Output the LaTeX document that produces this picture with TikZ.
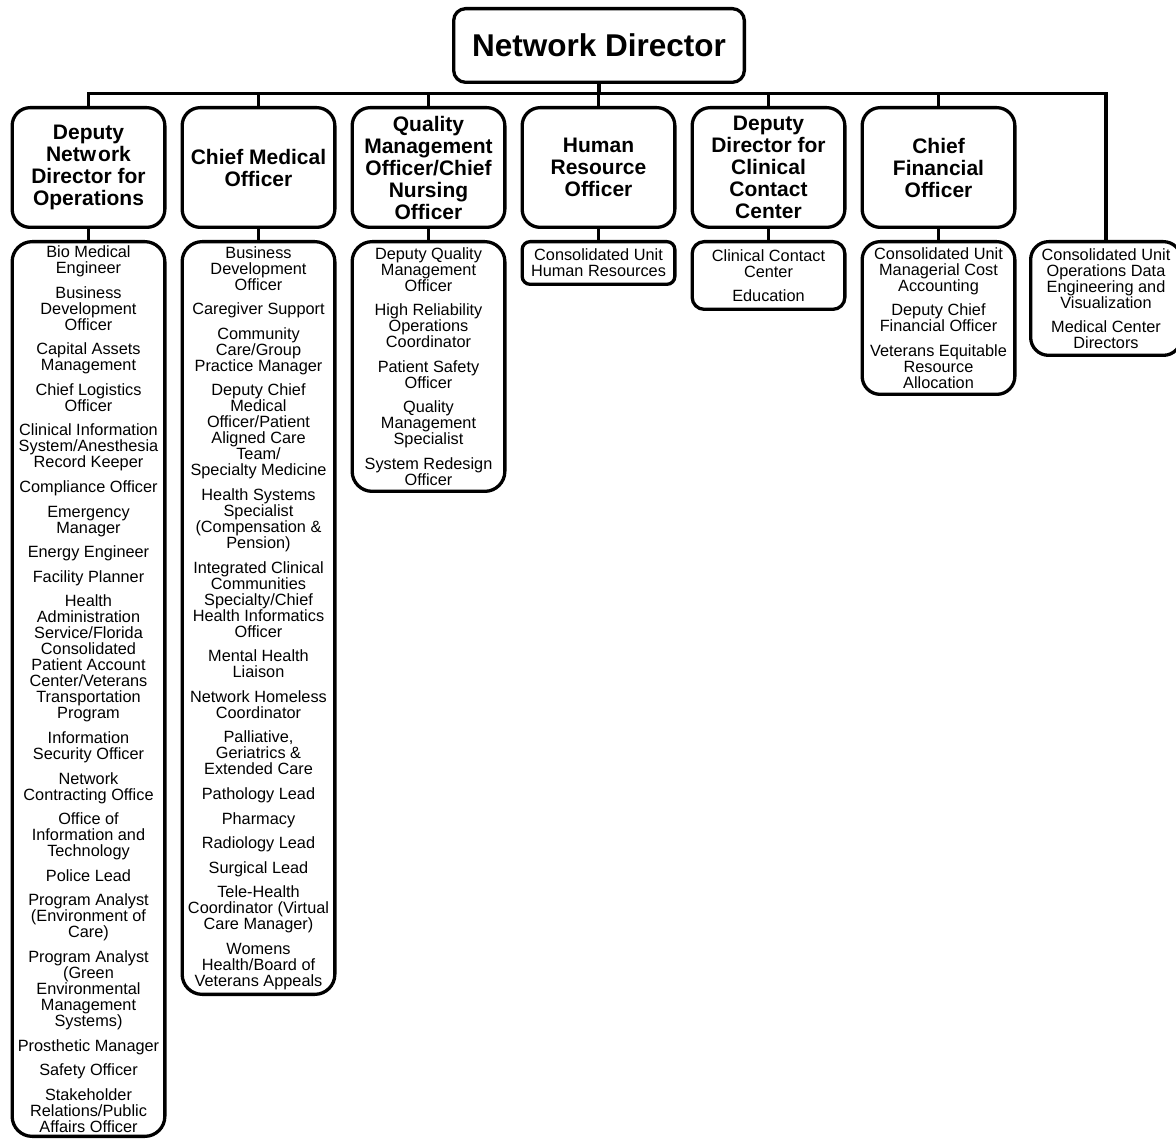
\documentclass[tikz,border=0pt]{standalone}
\usepackage{fontspec}
\setmainfont{Liberation Sans}
\begin{document}
\begin{tikzpicture}[x=1pt,y=-1pt,
  box/.style={draw=black,line width=3.3pt,fill=white,align=center,inner sep=0pt},
  topbox/.style={box,rounded corners=12pt,minimum width=290.7pt,minimum height=73.7pt,
     font=\fontsize{31.5}{34}\selectfont\bfseries},
  headbox/.style={box,rounded corners=18pt,minimum width=152.7pt,minimum height=119.7pt,
     font=\fontsize{21}{22}\selectfont\bfseries},
  listbox/.style={box,minimum width=152.7pt,font=\fontsize{16.3}{16}\selectfont},
  conn/.style={draw=black,line width=3.3pt}]
\useasboundingbox (0,0) rectangle (1176,1139);
\fill[white] (0,0) rectangle (1176,1139);

% top
\node[topbox] (nd) at (599,45.5) {Network Director};
\coordinate (bus) at (0,93.5);

% level 2
\node[headbox] (h1) at (88.5,167.5) {Deputy\\Netw\kern2pt ork\\Director for\\Operations};
\node[headbox] (h2) at (258.5,167.5) {Chief Medical\\Officer};
\node[headbox] (h3) at (428.5,167.5) {Quality\\Management\\Officer/Chief\\Nursing\\Officer};
\node[headbox] (h4) at (598.5,167.5) {Human\\Resource\\Officer};
\node[headbox] (h5) at (768.5,167.5) {Deputy\\Director for\\Clinical\\Contact\\Center};
\node[headbox] (h6) at (938.5,167.5) {Chief\\Financial\\Officer};

% level 3
\node[listbox,rounded corners=20pt,minimum height=894.7pt] (c1) at (88.5,689) {%
Bio Medical\\Engineer\\[8.6pt]
Business\\Development\\Officer\\[8.6pt]
Capital Assets\\Management\\[8.6pt]
Chief Logistics\\Officer\\[8.6pt]
Clinical Information\\System/Anesthesia\\Record Keeper\\[8.6pt]
Compliance Officer\\[8.6pt]
Emergency\\Manager\\[8.6pt]
Energy Engineer\\[8.6pt]
Facility Planner\\[8.6pt]
Health\\Administration\\Service/Florida\\Consolidated\\Patient Account\\Center/Veterans\\Transportation\\Program\\[8.6pt]
Information\\Security Officer\\[8.6pt]
Network\\Contracting Office\\[8.6pt]
Office of\\Information and\\Technology\\[8.6pt]
Police Lead\\[8.6pt]
Program Analyst\\(Environment of\\Care)\\[8.6pt]
Program Analyst\\(Green\\Environmental\\Management\\Systems)\\[8.6pt]
Prosthetic Manager\\[8.6pt]
Safety Officer\\[8.6pt]
Stakeholder\\Relations/Public\\Affairs Officer};

\node[listbox,rounded corners=20pt,minimum height=752.7pt] (c2) at (258.5,618) {%
Business\\Development\\Officer\\[8.6pt]
Caregiver Support\\[8.6pt]
Community\\Care/Group\\Practice Manager\\[8.6pt]
Deputy Chief\\Medical\\Officer/Patient\\Aligned Care\\Team/\\Specialty Medicine\\[8.6pt]
Health Systems\\Specialist\\(Compensation \&\\Pension)\\[8.6pt]
Integrated Clinical\\Communities\\Specialty/Chief\\Health Informatics\\Officer\\[8.6pt]
Mental Health\\Liaison\\[8.6pt]
Network Homeless\\Coordinator\\[8.6pt]
Palliative,\\Geriatrics \&\\Extended Care\\[8.6pt]
Pathology Lead\\[8.6pt]
Pharmacy\\[8.6pt]
Radiology Lead\\[8.6pt]
Surgical Lead\\[8.6pt]
Tele-Health\\Coordinator (Virtual\\Care Manager)\\[8.6pt]
Womens\\Health/Board of\\Veterans Appeals};

\node[listbox,rounded corners=20pt,minimum height=249.7pt] (c3) at (428.5,366.5) {%
Deputy Quality\\Management\\Officer\\[8.6pt]
High Reliability\\Operations\\Coordinator\\[8.6pt]
Patient Safety\\Officer\\[8.6pt]
Quality\\Management\\Specialist\\[8.6pt]
System Redesign\\Officer};

\node[listbox,rounded corners=8pt,minimum height=42.7pt] (c4) at (598.5,263) {%
Consolidated Unit\\Human Resources};

\node[listbox,rounded corners=12pt,minimum height=67.7pt] (c5) at (768.5,275.5) {%
Clinical Contact\\Center\\[8.6pt]
Education};

\node[listbox,rounded corners=18pt,minimum height=152.7pt] (c6) at (938.5,318) {%
Consolidated Unit\\Managerial Cost\\Accounting\\[8.6pt]
Deputy Chief\\Financial Officer\\[8.6pt]
Veterans Equitable\\Resource\\Allocation};

\node[listbox,rounded corners=18pt,minimum width=150.7pt,minimum height=113.7pt] (c7) at (1106,298.5) {%
Consolidated Unit\\Operations Data\\Engineering and\\Visualization\\[8.6pt]
Medical Center\\Directors};

% connectors
\draw[conn] (nd.south) -- (nd.south |- bus);
\draw[conn] (h1.north) -- (h1.north |- bus) -| (c7.north);
\foreach \i in {2,...,6} {\draw[conn] (h\i.north) -- (h\i.north |- bus);}
\foreach \i in {1,...,6} {\draw[conn] (h\i.south) -- (c\i.north);}
\end{tikzpicture}
\end{document}
